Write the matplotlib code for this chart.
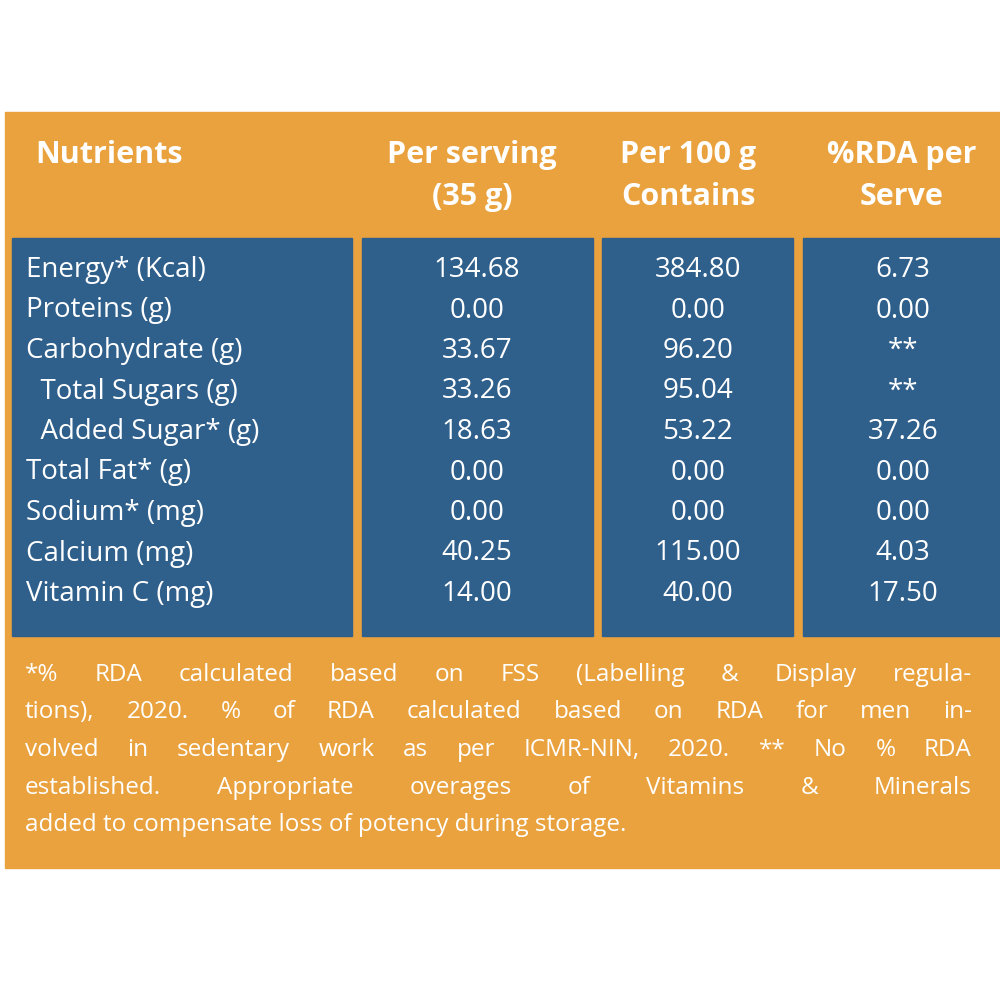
import matplotlib.pyplot as plt
from matplotlib.patches import Rectangle

plt.rcParams['font.family'] = ['Open Sans', 'DejaVu Sans']

headers = [("Nutrients", ""), ("Per serving", "(35 g)"), ("Per 100 g", "Contains"), ("%RDA per", "Serve")]
nutrients = ["Energy* (Kcal)", "Proteins (g)", "Carbohydrate (g)", "  Total Sugars (g)",
             "  Added Sugar* (g)", "Total Fat* (g)", "Sodium* (mg)", "Calcium (mg)", "Vitamin C (mg)"]
per_serving = ["134.68", "0.00", "33.67", "33.26", "18.63", "0.00", "0.00", "40.25", "14.00"]
per_100g = ["384.80", "0.00", "96.20", "95.04", "53.22", "0.00", "0.00", "115.00", "40.00"]
rda = ["6.73", "0.00", "**", "**", "37.26", "0.00", "0.00", "4.03", "17.50"]
footer = [
    "*% RDA calculated based on FSS (Labelling & Display regula-",
    "tions), 2020. % of RDA calculated based on RDA for men in-",
    "volved in sedentary work as per ICMR-NIN, 2020. ** No % RDA",
    "established. Appropriate overages of Vitamins & Minerals",
    "added to compensate loss of potency during storage.",
]

orange = "#E9A23D"
blue = "#2F5F8B"

fig = plt.figure(figsize=(10, 10), dpi=100)
ax = fig.add_axes([0, 0, 1, 1])
ax.set_xlim(0, 1000)
ax.set_ylim(1000, 0)
ax.axis('off')

ax.add_patch(Rectangle((5, 112), 995, 756, color=orange))
cols = [(12, 352), (362, 593), (602, 793), (803, 1000)]
for x0, x1 in cols:
    ax.add_patch(Rectangle((x0, 238), x1 - x0, 398, color=blue))

# header
hx = [(35, 'left'), (472, 'center'), (688, 'center'), (902, 'center')]
for (l1, l2), (x, ha) in zip(headers, hx):
    ax.text(x, 155, l1, color='white', fontsize=22, fontweight='bold', ha=ha, va='center')
    if l2:
        ax.text(x, 197, l2, color='white', fontsize=22, fontweight='bold', ha=ha, va='center')

# rows
for i in range(len(nutrients)):
    y = 270 + i * 40.5
    ax.text(26, y, nutrients[i], color='white', fontsize=20, ha='left', va='center')
    ax.text(477, y, per_serving[i], color='white', fontsize=20, ha='center', va='center')
    ax.text(698, y, per_100g[i], color='white', fontsize=20, ha='center', va='center')
    ax.text(903, y, rda[i], color='white', fontsize=20, ha='center', va='center')

# justified footer
fig.canvas.draw()
renderer = fig.canvas.get_renderer()
inv = ax.transData.inverted()
x_left, x_right = 25, 972
for i, line in enumerate(footer):
    y = 675 + i * 37.5
    words = line.split()
    if i == len(footer) - 1:
        ax.text(x_left, y, line, color='white', fontsize=17.5, ha='left', va='center')
        continue
    texts = [ax.text(0, y, w, color='white', fontsize=17.5, ha='left', va='center') for w in words]
    widths = []
    for t in texts:
        bb = t.get_window_extent(renderer)
        widths.append(bb.width)  # pixels == data units here
    gap = (x_right - x_left - sum(widths)) / (len(words) - 1)
    x = x_left
    for t, w in zip(texts, widths):
        t.set_x(x)
        x += w + gap

fig.savefig("out.png")
